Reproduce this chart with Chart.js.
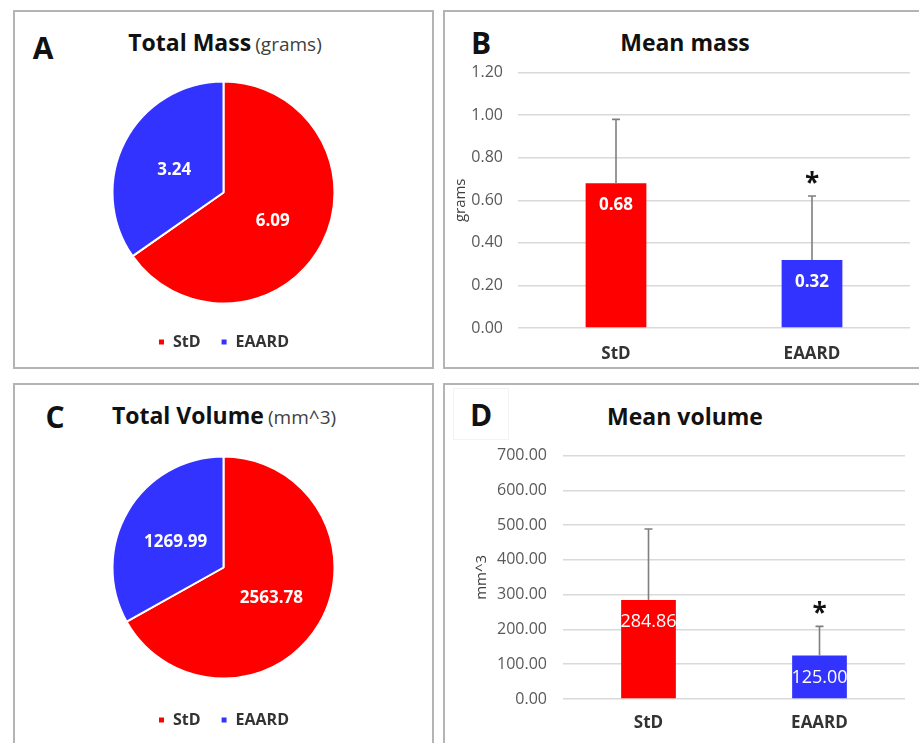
<!DOCTYPE html>
<html>
<head>
<meta charset="utf-8">
<script src="https://cdn.jsdelivr.net/npm/chart.js@4.4.1/dist/chart.umd.min.js"></script>
<style>
  html, body { margin: 0; padding: 0; background: #fff; width: 919px; height: 743px; overflow: hidden; font-family: "Open Sans", sans-serif; }
  .panel { position: absolute; box-sizing: border-box; border: 2px solid #b4b4b4; background: #fff; }
  .letter { position: absolute; font-weight: 700; font-size: 30px; color: #111; line-height: 1; transform: translate(-50%, -50%); }
  .title { position: absolute; white-space: nowrap; color: #111; line-height: 1; transform: translate(-50%, -50%); }
  .title b { font-size: 23px; font-weight: 700; }
  .title span { font-size: 19px; color: #404040; }
  .box { position: absolute; }
  .box canvas { display: block; }
  .tag { position: absolute; box-sizing: border-box; border: 1px solid #f3f3f3; }
</style>
</head>
<body>
  <div class="panel" style="left:13px; top:10px; width:421px; height:359px;"></div>
  <div class="panel" style="left:443px; top:10px; width:490px; height:359px;"></div>
  <div class="panel" style="left:13px; top:383px; width:421px; height:380px;"></div>
  <div class="panel" style="left:443px; top:383px; width:490px; height:380px;"></div>
  <div class="tag" style="left:453px; top:388px; width:56px; height:52px;"></div>

  <div class="letter" style="left:43px; top:48px;">A</div>
  <div class="letter" style="left:481px; top:43px;">B</div>
  <div class="letter" style="left:55px; top:417px;">C</div>
  <div class="letter" style="left:481px; top:415px;">D</div>

  <div class="title" style="left:225px; top:42px;"><b>Total Mass</b> <span>(grams)</span></div>
  <div class="title" style="left:685px; top:42px;"><b>Mean mass</b></div>
  <div class="title" style="left:224px; top:415px;"><b>Total Volume</b> <span>(mm^3)</span></div>
  <div class="title" style="left:685px; top:416px;"><b>Mean volume</b></div>

  <div class="box" style="left:14px; top:71px;"><canvas id="pieMass" width="419" height="289"></canvas></div>
  <div class="box" style="left:443px; top:48px;"><canvas id="barMass" width="476" height="320"></canvas></div>
  <div class="box" style="left:14px; top:443px;"><canvas id="pieVolume" width="419" height="295"></canvas></div>
  <div class="box" style="left:443px; top:430px;"><canvas id="barVolume" width="476" height="313"></canvas></div>

<script>
// Groups
const categories = ['StD', 'EAARD'];

// Totals (pie charts)
const totalMass = [6.09, 3.24];          // grams
const totalVolume = [2563.78, 1269.99];  // mm^3

// Means with upper standard-deviation whiskers (bar charts)
const meanMass = [0.68, 0.32];           // grams
const meanMassSD = [0.30, 0.30];
const meanVolume = [284.86, 125.00];     // mm^3
const meanVolumeSD = [204.0, 84.0];

// Significance marks above each group's whisker
const significance = ['', '*'];

// Axis ranges
const massAxis = { min: 0, max: 1.2, step: 0.2 };
const volumeAxis = { min: 0, max: 700, step: 100 };

const RED = '#ff0000';
const BLUE = '#3333ff';
const FONT = '"Open Sans", sans-serif';

Chart.defaults.font.family = FONT;
Chart.defaults.animation = false;
Chart.defaults.responsive = false;
Chart.defaults.devicePixelRatio = 1;

// Writes each slice's value at the middle of the slice
const sliceLabels = {
  id: 'sliceLabels',
  afterDatasetsDraw(chart, args, opts) {
    const { ctx } = chart;
    const values = chart.data.datasets[0].data;
    ctx.save();
    ctx.font = opts.font;
    ctx.fillStyle = opts.color;
    ctx.textAlign = 'center';
    ctx.textBaseline = 'middle';
    chart.getDatasetMeta(0).data.forEach((arc, i) => {
      const p = arc.tooltipPosition();
      ctx.fillText(values[i].toFixed(2), p.x, p.y + 3);
    });
    ctx.restore();
  }
};

// Upper error whiskers, significance marks and in-bar value labels
const barExtras = {
  id: 'barExtras',
  afterDatasetsDraw(chart, args, opts) {
    const { ctx } = chart;
    const y = chart.scales.y;
    const values = chart.data.datasets[0].data;
    ctx.save();
    chart.getDatasetMeta(0).data.forEach((bar, i) => {
      const top = y.getPixelForValue(values[i] + opts.errors[i]);
      ctx.strokeStyle = opts.whiskerColor;
      ctx.lineWidth = opts.whiskerWidth;
      ctx.beginPath();
      ctx.moveTo(bar.x, bar.y);
      ctx.lineTo(bar.x, top);
      ctx.moveTo(bar.x - opts.cap, top);
      ctx.lineTo(bar.x + opts.cap, top);
      ctx.stroke();

      if (opts.marks[i]) {
        ctx.font = 'bold 26px ' + FONT;
        ctx.fillStyle = '#111';
        ctx.textAlign = 'center';
        ctx.textBaseline = 'alphabetic';
        ctx.fillText(opts.marks[i], bar.x, top - 4);
      }

      ctx.font = opts.labelFont;
      ctx.fillStyle = '#fff';
      ctx.textAlign = 'center';
      ctx.textBaseline = 'middle';
      ctx.fillText(values[i].toFixed(2), bar.x, bar.y + 22);
    });
    ctx.restore();
  }
};

function pieChart(id, values) {
  return new Chart(document.getElementById(id), {
    type: 'pie',
    data: {
      labels: categories,
      datasets: [{
        data: values,
        backgroundColor: [RED, BLUE],
        borderColor: '#ffffff',
        borderWidth: 2
      }]
    },
    options: {
      radius: 111,
      layout: { padding: 0 },
      plugins: {
        tooltip: { enabled: false },
        legend: {
          position: 'bottom',
          labels: {
            usePointStyle: true,
            pointStyle: 'rect',
            boxWidth: 7,
            boxHeight: 7,
            padding: 20,
            color: '#333',
            font: { size: 16, weight: 'bold' }
          }
        },
        sliceLabels: { font: 'bold 17px ' + FONT, color: '#ffffff' }
      }
    },
    plugins: [sliceLabels]
  });
}

function barChart(id, values, errors, axis, cfg) {
  return new Chart(document.getElementById(id), {
    type: 'bar',
    data: {
      labels: categories,
      datasets: [{
        data: values,
        backgroundColor: [RED, BLUE],
        barPercentage: cfg.barPct,
        categoryPercentage: 1
      }]
    },
    options: {
      layout: { padding: cfg.padding },
      plugins: {
        legend: { display: false },
        tooltip: { enabled: false },
        barExtras: {
          errors: errors,
          marks: significance,
          whiskerColor: '#7f7f7f',
          whiskerWidth: 1.6,
          cap: 4,
          labelFont: cfg.labelFont
        }
      },
      scales: {
        x: {
          grid: { display: false, drawTicks: false },
          border: { display: false },
          ticks: { color: '#333', padding: cfg.xPad, font: { size: 17, weight: 'bold' } },
          afterFit(s) { s.height = cfg.xHeight; }
        },
        y: {
          min: axis.min,
          max: axis.max,
          grid: { color: '#d9d9d9', lineWidth: 1.5, drawTicks: false },
          border: { display: false },
          ticks: {
            stepSize: axis.step,
            padding: cfg.yPad,
            color: '#595959',
            font: { size: 16 },
            callback: v => Number(v).toFixed(2)
          },
          title: {
            display: true,
            text: cfg.unit,
            color: '#404040',
            padding: 0,
            font: { size: 15 }
          },
          afterFit(s) { s.width = cfg.yWidth; }
        }
      }
    },
    plugins: [barExtras]
  });
}

pieChart('pieMass', totalMass);
pieChart('pieVolume', totalVolume);

barChart('barMass', meanMass, meanMassSD, massAxis, {
  unit: 'grams', barPct: 0.31, labelFont: 'bold 17px ' + FONT,
  padding: { left: 9, right: 9, top: 16, bottom: 0 },
  yWidth: 66, yPad: 15, xHeight: 40, xPad: 16
});

barChart('barVolume', meanVolume, meanVolumeSD, volumeAxis, {
  unit: 'mm^3', barPct: 0.32, labelFont: '18px ' + FONT,
  padding: { left: 30, right: 14, top: 24, bottom: 0 },
  yWidth: 90, yPad: 16, xHeight: 44, xPad: 14
});
</script>
</body>
</html>
